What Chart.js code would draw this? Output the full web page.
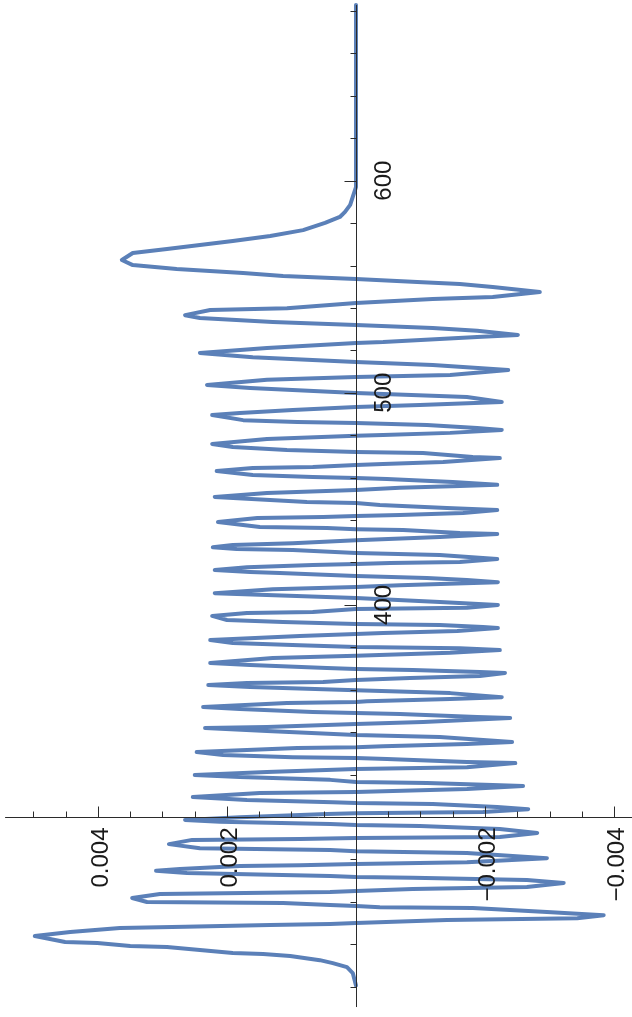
<!DOCTYPE html>
<html>
<head>
<meta charset="utf-8">
<script src="https://cdn.jsdelivr.net/npm/chart.js@4.4.1/dist/chart.umd.min.js"></script>
<style>
  html, body { margin: 0; padding: 0; background: #fff; }
  #wrap { width: 632px; height: 1017px; position: relative; }
</style>
</head>
<body>
<div id="wrap"><canvas id="plot"></canvas></div>
<script>
// sample index (vertical axis) and signal value (horizontal axis)
const sampleIndex = [
  682.8, 605.1, 597.0, 592.4, 588.6, 585.3, 582.9, 580.1, 576.7, 573.9, 571.6, 569.7, 567.8, 565.9, 562.6,
  560.2, 558.4, 556.5, 555.1, 553.7, 552.2, 551.3, 549.9, 547.5, 545.2, 544.2, 542.3, 539.9, 539.0, 536.6,
  535.3, 533.4, 532.0, 530.6, 529.2, 527.3, 526.3, 523.9, 523.5, 521.1, 518.8, 516.8, 514.5, 513.1, 510.7,
  508.4, 507.5, 506.1, 503.7, 502.3, 499.9, 498.0, 495.7, 494.2, 493.3, 491.9, 490.5, 489.5, 487.1, 486.2,
  485.7, 484.8, 483.4, 482.5, 481.1, 480.1, 479.7, 478.2, 475.9, 474.4, 473.0, 472.1, 471.6, 469.7, 469.2,
  467.4, 466.4, 465.9, 465.0, 464.5, 463.1, 461.2, 460.3, 459.8, 459.3, 457.9, 456.6, 456.1, 455.2, 454.2,
  452.8, 450.9, 450.0, 448.5, 448.0, 447.1, 445.7, 444.7, 443.3, 442.4, 441.9, 441.4, 441.0, 439.1, 436.7,
  436.2, 435.7, 435.3, 433.9, 433.4, 432.0, 430.5, 429.1, 428.2, 427.2, 426.4, 425.9, 424.5, 423.5, 421.6,
  420.2, 419.7, 419.3, 418.8, 417.8, 416.4, 415.5, 415.0, 413.6, 412.7, 411.7, 410.7, 409.3, 408.4, 407.4,
  405.5, 403.3, 401.4, 400.0, 398.6, 398.1, 396.7, 396.2, 394.8, 392.9, 391.9, 391.0, 390.5, 389.6, 389.1,
  387.7, 386.7, 386.3, 385.3, 383.9, 383.4, 382.0, 381.0, 380.1, 379.6, 378.7, 377.4, 376.0, 375.0, 372.6,
  371.7, 370.3, 369.8, 369.3, 368.4, 367.9, 366.5, 365.5, 364.6, 363.6, 363.2, 362.2, 361.3, 359.8, 358.4,
  356.5, 355.6, 354.6, 354.2, 353.7, 351.9, 350.9, 349.5, 349.0, 348.6, 347.2, 346.7, 344.8, 343.8, 342.4,
  342.0, 340.5, 338.6, 337.7, 335.3, 334.4, 333.4, 332.9, 332.5, 330.6, 329.2, 328.2, 327.8, 327.3, 325.9,
  325.4, 323.5, 322.6, 321.2, 319.8, 318.9, 317.5, 316.5, 316.0, 315.1, 314.6, 313.2, 311.8, 311.3, 309.4,
  308.0, 307.0, 306.6, 306.1, 304.7, 303.7, 302.3, 301.8, 301.4, 299.9, 298.6, 297.7, 296.7, 296.2, 295.8,
  294.3, 292.5, 290.6, 290.1, 289.6, 289.2, 287.2, 285.3, 284.4, 283.9, 283.0, 280.6, 278.7, 277.8, 277.3,
  276.9, 275.5, 274.6, 273.6, 272.2, 271.7, 271.3, 270.3, 268.9, 267.0, 266.0, 265.1, 264.6, 263.7, 261.8,
  259.9, 259.4, 258.5, 258.0, 257.5, 257.1, 255.2, 253.7, 252.3, 251.4, 250.0, 249.6, 249.1, 248.2, 247.7,
  245.8, 243.9, 241.1, 240.6, 239.2, 238.7, 237.3, 235.9, 235.4, 234.5, 232.5, 231.1, 229.2, 226.4, 220.5
];
const sampleValue = [
  0, 0, 0, 0.00005, 0.00009, 0.00017, 0.00025, 0.00048, 0.00082, 0.00133, 0.00191, 0.00242, 0.00293, 0.00346, 0.00363,
  0.00346, 0.00278, 0.00175, 0.00113, 0, -0.00095, -0.00161, -0.00212, -0.00285, -0.00212, -0.00119, 0, 0.00107, 0.00226, 0.00265,
  0.00242, 0.00129, 0, -0.00119, -0.00188, -0.00251, -0.00188, -0.00042, 0, 0.00138, 0.00242, 0.00160, 0, -0.00119, -0.00236,
  -0.00146, 0, 0.00138, 0.00231, 0.00164, 0, -0.00172, -0.00226, -0.00099, 0, 0.00098, 0.00180, 0.00223, 0.00175, 0.00091,
  0, -0.00110, -0.00188, -0.00226, -0.00146, -0.00042, 0, 0.00138, 0.00223, 0.00191, 0.00107, 0, -0.00104, -0.00181, -0.00223,
  -0.00135, -0.00042, 0, 0.00067, 0.00160, 0.00216, 0.00160, 0.00067, 0, -0.00048, -0.00150, -0.00219, -0.00161, -0.00068, 0,
  0.00138, 0.00219, 0.00169, 0.00076, 0, -0.00037, -0.00141, -0.00219, -0.00166, -0.00068, 0, 0.00051, 0.00153, 0.00214, 0.00149,
  0.00045, 0, -0.00073, -0.00161, -0.00219, -0.00130, 0, 0.00098, 0.00191, 0.00222, 0.00185, 0.00098, 0, -0.00130, -0.00219,
  -0.00161, -0.00053, 0, 0.00067, 0.00169, 0.00219, 0.00164, 0.00118, 0, -0.00110, -0.00172, -0.00220, -0.00068, 0, 0.00129,
  0.00219, 0, -0.00130, -0.00220, -0.00172, 0, 0.00067, 0.00169, 0.00223, 0.00200, 0.00113, 0, -0.00130, -0.00197, -0.00220,
  -0.00157, -0.00042, 0, 0.00087, 0.00191, 0.00226, 0.00191, 0.00087, 0, -0.00161, -0.00223, -0.00146, 0, 0.00129, 0.00226,
  0.00164, 0.00045, 0, -0.00088, -0.00192, -0.00231, -0.00192, -0.00084, 0, 0.00051, 0.00169, 0.00229, 0.00164, 0, -0.00146,
  -0.00226, -0.00146, -0.00017, 0, 0.00107, 0.00237, 0.00180, 0.00067, 0, -0.00068, -0.00188, -0.00239, -0.00104, 0, 0.00138,
  0.00234, 0.00138, 0, -0.00130, -0.00242, -0.00172, -0.00042, 0, 0.00091, 0.00247, 0.00206, 0.00098, 0, -0.00048, -0.00172,
  -0.00247, -0.00172, 0, 0.00138, 0.00250, 0.00180, 0.00040, 0, -0.00110, -0.00212, -0.00259, -0.00172, 0, 0.00149, 0.00253,
  0.00169, 0.00036, 0, -0.00119, -0.00219, -0.00267, -0.00197, 0, 0.00045, 0.00180, 0.00265, 0.00211, 0.00040, 0, -0.00099,
  -0.00223, -0.00281, -0.00223, 0, 0.00087, 0.00254, 0.00290, 0.00242, 0.00040, 0, -0.00172, -0.00296, -0.00172, 0, 0.00087,
  0.00180, 0.00273, 0.00310, 0.00262, 0.00040, 0, -0.00088, -0.00265, -0.00322, -0.00265, -0.00088, 0, 0.00040, 0.00304, 0.00347,
  0.00324, 0.00113, 0.00040, 0, -0.00037, -0.00181, -0.00296, -0.00384, -0.00343, -0.00141, 0, 0.00040, 0.00133, 0.00265, 0.00366,
  0.00443, 0.00498, 0.00451, 0.00401, 0.00350, 0.00293, 0.00242, 0.00191, 0.00144, 0.00102, 0.00056, 0.00036, 0.00014, 0.00005, 0
];

// axes
const valueTicks = [0.005, 0.0045, 0.004, 0.0035, 0.003, 0.0025, 0.002, 0.0015, 0.001, 0.0005,
  -0.0005, -0.001, -0.0015, -0.002, -0.0025, -0.003, -0.0035, -0.004];
const valueLabels = [0.004, 0.002, -0.002, -0.004];
const indexTicks = [220, 240, 260, 280, 320, 340, 360, 380, 400, 420, 440, 460, 480,
  500, 520, 540, 560, 580, 600, 620, 640, 660, 680];
const indexLabels = [400, 500, 600];
const valueRange = [-0.004279, 0.005519];
const indexRange = [205.7, 685.19];
const axisCross = 300;      // value axis sits at this index
const valueAxisLeft = 0.00544;
const indexAxisEnds = [210.4, 682.8];

const FONT = '24px "Liberation Sans", Arial, sans-serif';
const AXIS_COLOR = '#2b2b2b';

function fmt(v) {
  const s = Math.abs(v).toFixed(3);
  return v < 0 ? '\u2212' + s : s;
}

const axesPlugin = {
  id: 'rotatedAxes',
  afterDatasetsDraw(chart) {
    const { ctx, scales: { x, y } } = chart;
    const x0 = Math.round(x.getPixelForValue(0)) + 0.5;
    const y0 = Math.round(y.getPixelForValue(axisCross)) + 0.5;
    ctx.save();
    ctx.strokeStyle = AXIS_COLOR;
    ctx.lineWidth = 1;
    ctx.beginPath();
    // value axis (horizontal)
    ctx.moveTo(x.getPixelForValue(valueAxisLeft), y0);
    ctx.lineTo(chart.width, y0);
    // index axis (vertical)
    ctx.moveTo(x0, y.getPixelForValue(indexAxisEnds[1]));
    ctx.lineTo(x0, y.getPixelForValue(indexAxisEnds[0]));
    valueTicks.forEach(v => {
      const major = Math.abs(v / 0.002 - Math.round(v / 0.002)) < 1e-6;
      const px = Math.round(x.getPixelForValue(v)) + 0.5;
      ctx.moveTo(px, y0);
      ctx.lineTo(px, y0 - (major ? 11 : 6));
    });
    indexTicks.forEach(t => {
      const major = t % 100 === 0;
      const py = Math.round(y.getPixelForValue(t)) + 0.5;
      ctx.moveTo(x0, py);
      ctx.lineTo(x0 - (major ? 12 : 6), py);
    });
    ctx.stroke();

    ctx.fillStyle = '#1a1a1a';
    ctx.font = FONT;
    ctx.textBaseline = 'alphabetic';
    valueLabels.forEach(v => {
      const px = x.getPixelForValue(v);
      ctx.save();
      ctx.translate(px + 10, y0 + 10);
      ctx.rotate(-Math.PI / 2);
      ctx.textAlign = 'right';
      ctx.fillText(fmt(v), 0, 0);
      ctx.restore();
    });
    indexLabels.forEach(t => {
      const py = y.getPixelForValue(t);
      ctx.save();
      ctx.translate(x0 + 34, py);
      ctx.rotate(-Math.PI / 2);
      ctx.textAlign = 'center';
      ctx.fillText(String(t), 0, 0);
      ctx.restore();
    });
    ctx.restore();
  }
};

const points = sampleIndex.map((t, i) => ({ x: sampleValue[i], y: t }));

new Chart(document.getElementById('plot'), {
  type: 'scatter',
  data: {
    datasets: [{
      data: points,
      showLine: true,
      borderColor: '#5b80b8',
      borderWidth: 4,
      borderJoinStyle: 'round',
      borderCapStyle: 'round',
      pointRadius: 0,
      tension: 0
    }]
  },
  options: {
    responsive: true,
    maintainAspectRatio: false,
    animation: false,
    layout: { padding: 0 },
    plugins: { legend: { display: false }, tooltip: { enabled: false } },
    scales: {
      x: { type: 'linear', display: false, reverse: true, min: valueRange[0], max: valueRange[1] },
      y: { type: 'linear', display: false, min: indexRange[0], max: indexRange[1] }
    }
  },
  plugins: [axesPlugin]
});
</script>
</body>
</html>
